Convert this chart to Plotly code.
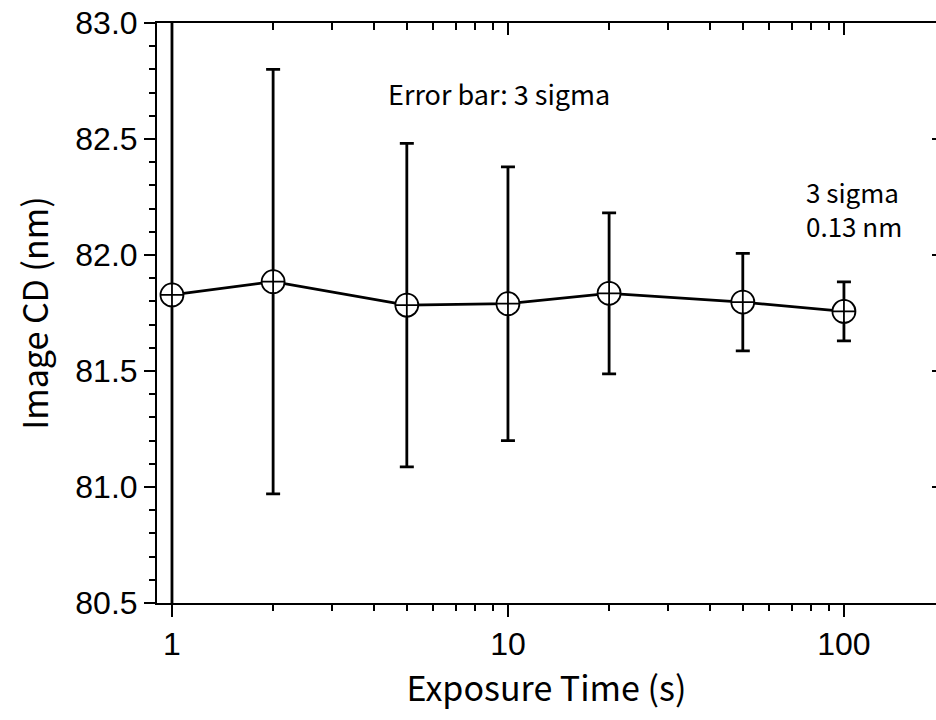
import plotly.graph_objects as go

exposure_time = [1, 2, 5, 10, 20, 50, 100]
image_cd = [81.828, 81.885, 81.784, 81.790, 81.835, 81.797, 81.757]
three_sigma = [1.6, 0.915, 0.697, 0.59, 0.347, 0.21, 0.127]

x_major = [1, 10, 100]
x_major_labels = ["1", "10", "100"]
x_minor = [2, 3, 4, 5, 6, 7, 8, 9, 20, 30, 40, 50, 60, 70, 80, 90, 200]
y_major = [80.5, 81.0, 81.5, 82.0, 82.5, 83.0]
y_major_labels = ["80.5", "81.0", "81.5", "82.0", "82.5", "83.0"]

FONT = "Noto Sans CJK JP"
TICKFONT = "Liberation Sans"

fig = go.Figure()
fig.add_trace(go.Scatter(
    x=exposure_time, y=image_cd,
    mode="lines+markers",
    line=dict(color="black", width=2.8),
    marker=dict(symbol="circle-cross", size=23, color="white",
                line=dict(color="black", width=1.8)),
    error_y=dict(type="data", array=three_sigma, visible=True,
                 color="black", thickness=2.8, width=7),
    showlegend=False,
    cliponaxis=True,
))
# invisible trace to host the mirrored axes
fig.add_trace(go.Scatter(x=[exposure_time[0]], y=[image_cd[0]], xaxis="x2", yaxis="y2",
                         mode="markers", marker=dict(opacity=0), showlegend=False,
                         hoverinfo="skip"))

xr = [-0.0446, 2.274]
yr = [80.5, 83.0]

fig.update_layout(
    width=936, height=720,
    margin=dict(l=157, r=0, t=23, b=117, autoexpand=False),
    paper_bgcolor="white", plot_bgcolor="white",
    font=dict(family=FONT, color="black"),
    xaxis=dict(
        type="log", range=xr,
        tickmode="array", tickvals=x_major, ticktext=x_major_labels,
        ticks="outside", ticklen=12, tickwidth=2, tickcolor="black",
        minor=dict(tickmode="array", tickvals=x_minor, ticks="outside",
                   ticklen=6, tickwidth=2, tickcolor="black"),
        showline=True, linewidth=2, linecolor="black", mirror=False,
        showgrid=False, zeroline=False, ticklabeloverflow="allow",
        tickfont=dict(size=32, family=TICKFONT),
        title=dict(text="Exposure Time (s)", font=dict(size=34, family=FONT), standoff=0),
    ),
    yaxis=dict(
        range=yr, tickmode="array", tickvals=y_major, ticktext=y_major_labels,
        ticks="outside", ticklen=11, tickwidth=2, tickcolor="black",
        minor=dict(dtick=0.1, tick0=80.5, ticks="outside", ticklen=6, tickwidth=2, tickcolor="black"),
        showline=True, linewidth=2, linecolor="black", mirror=False,
        showgrid=False, zeroline=False, ticklabeloverflow="allow",
        tickfont=dict(size=32, family=TICKFONT),
        title=dict(text="Image CD (nm)", font=dict(size=34, family=FONT), standoff=16),
    ),
    xaxis2=dict(
        type="log", range=xr, overlaying="x", side="top", anchor="y2",
        tickmode="array", tickvals=x_major, showticklabels=False,
        ticks="inside", ticklen=12, tickwidth=2, tickcolor="black",
        minor=dict(tickmode="array", tickvals=x_minor, ticks="inside",
                   ticklen=7, tickwidth=2, tickcolor="black"),
        showline=True, linewidth=2, linecolor="black",
        showgrid=False, zeroline=False,
    ),
    yaxis2=dict(
        range=yr, overlaying="y", side="right", anchor="x2",
        tickmode="array", tickvals=y_major[1:-1], showticklabels=False,
        ticks="inside", ticklen=4, tickwidth=2, tickcolor="black",
        showline=False, showgrid=False, zeroline=False,
    ),
    annotations=[
        dict(text="Error bar: 3 sigma", xref="paper", yref="paper",
             x=0.294, y=0.878, xanchor="left", yanchor="middle",
             showarrow=False, font=dict(size=27, family=FONT)),
        dict(text="3 sigma<br>0.13 nm", xref="paper", yref="paper",
             x=0.831, y=0.68, xanchor="left", yanchor="middle", align="left",
             showarrow=False, font=dict(size=26, family=FONT)),
    ],
)

fig.write_html("out.html")
